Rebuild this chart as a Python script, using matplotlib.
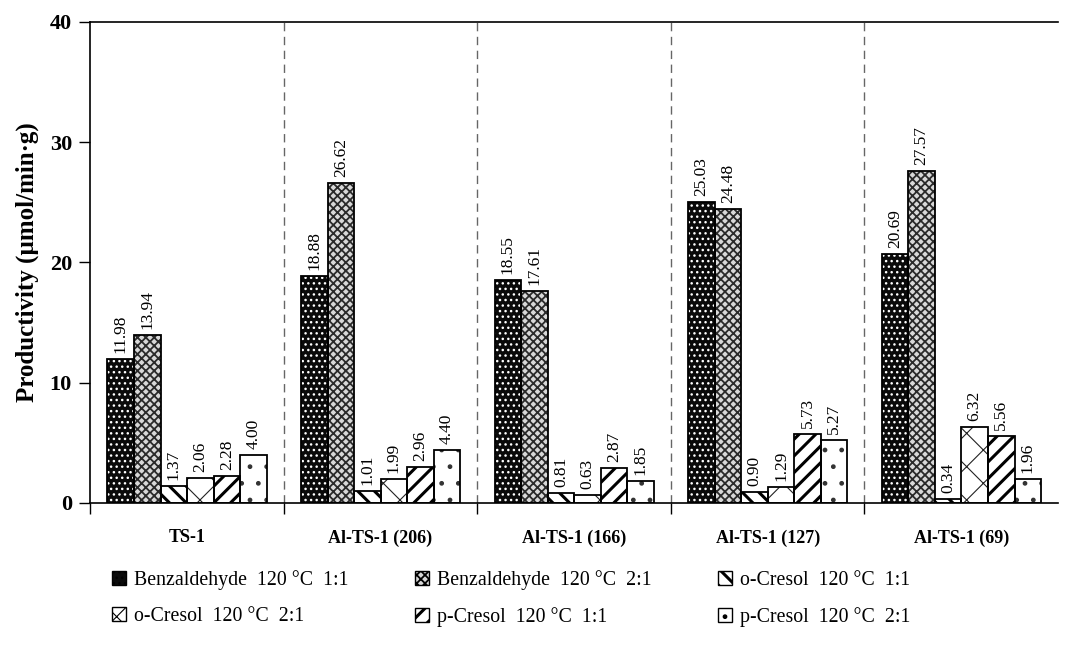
import numpy as np
import matplotlib
matplotlib.use("Agg")
import matplotlib.pyplot as plt
from matplotlib.patches import Patch

plt.rcParams['font.family'] = ['Liberation Serif', 'DejaVu Serif']

catalysts = ["TS-1", "Al-TS-1 (206)", "Al-TS-1 (166)", "Al-TS-1 (127)", "Al-TS-1 (69)"]
series = ["Benzaldehyde  120 °C  1:1", "Benzaldehyde  120 °C  2:1",
          "o-Cresol  120 °C  1:1", "o-Cresol  120 °C  2:1",
          "p-Cresol  120 °C  1:1", "p-Cresol  120 °C  2:1"]

benz_11 = [11.98, 18.88, 18.55, 25.03, 20.69]
benz_21 = [13.94, 26.62, 17.61, 24.48, 27.57]
ocre_11 = [1.37, 1.01, 0.81, 0.90, 0.34]
ocre_21 = [2.06, 1.99, 0.63, 1.29, 6.32]
pcre_11 = [2.28, 2.96, 2.87, 5.73, 5.56]
pcre_21 = [4.00, 4.40, 1.85, 5.27, 1.96]
values = [benz_11, benz_21, ocre_11, ocre_21, pcre_11, pcre_21]

# fill colour, hatch colour, hatch pattern, hatch line width
styles = [
    ("#0a0a0a", "white", "...", 1.0),
    ("#d8d8d8", "#2a2a2a", "xxxx", 1.3),
    ("white", "black", "\\\\", 2.2),
    ("white", "#222222", "x", 0.8),
    ("white", "black", "//", 2.2),
    ("white", "#333333", ".", 1.0),
]

fig = plt.figure(figsize=(10.72, 6.5), dpi=100)
ax = fig.add_axes([0.084, 0.2262, 0.903, 0.740])

x = np.arange(len(catalysts))
w = 0.137
handles = []
for i, (vals, (fc, hc, hatch, hlw)) in enumerate(zip(values, styles)):
    pos = x - 0.41 + w * (i + 0.5)
    with plt.rc_context({'hatch.linewidth': hlw}):
        ax.bar(pos, vals, w, color=fc, edgecolor=hc, hatch=hatch, linewidth=0, zorder=2)
        handles.append(Patch(facecolor=fc, edgecolor=hc, hatch=hatch, linewidth=0))
    ax.bar(pos, vals, w, fill=False, edgecolor="black", linewidth=1.3, zorder=3)
    for px, v in zip(pos, vals):
        ax.text(px, v + 0.5, f"{v:.2f}", rotation=90, ha="center", va="bottom",
                fontsize=12.5, zorder=4)

# group separators
for b in x[:-1] + 0.5:
    ax.axvline(b, color="#666666", linestyle=(0, (6, 4)), linewidth=1, zorder=1)

ax.set_xlim(-0.5, len(catalysts) - 0.5)
ax.set_ylim(0, 40)
ax.set_yticks([0, 10, 20, 30, 40])
ax.tick_params(axis="y", direction="out", length=8, labelsize=16, width=1, pad=5)
for lab in ax.get_yticklabels():
    lab.set_fontweight("bold")

ax.set_xticks(x)
ax.set_xticklabels(catalysts, fontsize=13, fontweight="bold")
ax.tick_params(axis="x", which="major", length=0, pad=19)
ax.set_xticks(np.arange(len(catalysts)) - 0.5, minor=True)
ax.tick_params(axis="x", which="minor", direction="out", length=8, width=1)

ax.set_ylabel("Productivity (µmol/min·g)", fontsize=18, fontweight="bold", labelpad=8)

ax.spines["right"].set_visible(False)
for s in ["left", "top", "bottom"]:
    ax.spines[s].set_linewidth(1.2)

order = [0, 3, 1, 4, 2, 5]
leg = fig.legend([handles[k] for k in order], [series[k] for k in order],
                 ncol=3, loc="upper left", bbox_to_anchor=(0.088, 0.15),
                 frameon=False, fontsize=14.3, handlelength=0.7, handleheight=0.7,
                 handletextpad=0.4, columnspacing=3.35, labelspacing=0.85)
for p, k in zip(leg.get_patches(), order):
    p.set_edgecolor("black")
    p.set_linewidth(1)
    if hasattr(p, "set_hatch_linewidth"):
        p.set_hatch_linewidth(styles[k][3])

fig.savefig("out.png", dpi=100)
